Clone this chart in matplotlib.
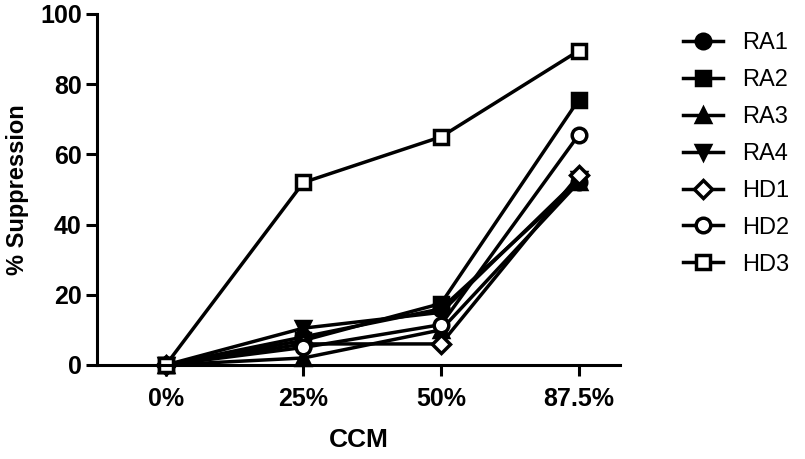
import numpy as np
import matplotlib.pyplot as plt

plt.rcParams['font.family'] = ['Liberation Sans', 'DejaVu Sans']

# CCM concentration (categorical x) and % suppression per donor
ccm = ['0%', '25%', '50%', '87.5%']
ra1 = [0, 8, 16, 52]
ra2 = [0, 7, 17.5, 75.5]
ra3 = [0, 2, 10, 52]
ra4 = [0, 10.5, 15, 53]
hd1 = [0, 6, 6, 54]
hd2 = [0, 5, 11.5, 65.5]
hd3 = [0, 52, 65, 89.5]

series = [
    ('RA1', ra1, 'o', 'black'),
    ('RA2', ra2, 's', 'black'),
    ('RA3', ra3, '^', 'black'),
    ('RA4', ra4, 'v', 'black'),
    ('HD1', hd1, 'D', 'white'),
    ('HD2', hd2, 'o', 'white'),
    ('HD3', hd3, 's', 'white'),
]

fig = plt.figure(figsize=(8.05, 4.59), dpi=100)
ax = fig.add_axes([0.1205, 0.2048, 0.6495, 0.7647])

x = np.arange(len(ccm))
for name, vals, mk, face in series:
    ms = 10.5 if mk != 'D' else 9.5
    ax.plot(x, vals, color='black', lw=2.5, marker=mk, markersize=ms,
            markerfacecolor=face, markeredgecolor='black', markeredgewidth=2.5,
            label=name, clip_on=False)

ax.set_xlim(-0.5, 3.3)
ax.set_ylim(0, 100)
ax.set_xticks(x)
ax.set_xticklabels(ccm, fontsize=18, fontweight='bold')
ax.set_yticks([0, 20, 40, 60, 80, 100])
ax.set_yticklabels(['0', '20', '40', '60', '80', '100'], fontsize=18, fontweight='bold')
ax.tick_params(axis='both', width=2.2, length=8, direction='out')
ax.tick_params(axis='x', pad=8)
ax.tick_params(axis='y', pad=3)
for side in ['top', 'right']:
    ax.spines[side].set_visible(False)
for side in ['left', 'bottom']:
    ax.spines[side].set_linewidth(2.2)

ax.set_xlabel('CCM', fontsize=19, fontweight='bold', labelpad=12)
ax.set_ylabel('% Suppression', fontsize=17, fontweight='bold', labelpad=8)

fig.legend(loc='upper left', bbox_to_anchor=(0.822, 0.976), frameon=False,
           fontsize=17, handlelength=1.7, handletextpad=0.8, labelspacing=0.63)

fig.savefig('out.png', dpi=100)
